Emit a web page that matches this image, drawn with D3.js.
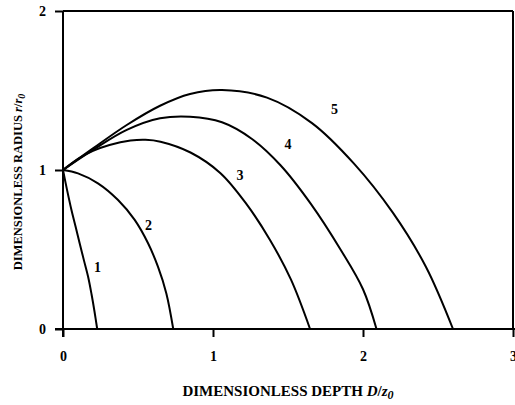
<!DOCTYPE html>
<html>
<head>
<meta charset="utf-8">
<script src="https://cdn.jsdelivr.net/npm/d3@7"></script>
<style>
  html, body { margin: 0; padding: 0; background: #fff; }
  svg { display: block; }
</style>
</head>
<body>
<svg id="chart" width="515" height="405"></svg>
<script>
// ---- data ----
const curveNames = ["1", "2", "3", "4", "5"];
const curve1 = [[0,1],[0.028,0.87],[0.056,0.75],[0.085,0.64],[0.111,0.54],[0.14,0.43],[0.167,0.33],[0.19,0.22],[0.21,0.11],[0.228,0]];
const curve2 = [[0,1],[0.1,0.979],[0.233,0.916],[0.367,0.811],[0.478,0.686],[0.567,0.539],[0.633,0.392],[0.689,0.224],[0.735,0]];
const curve3 = [[0,1],[0.1,1.07],[0.2,1.12],[0.31,1.157],[0.45,1.185],[0.55,1.19],[0.65,1.178],[0.85,1.11],[1.05,0.98],[1.22,0.79],[1.38,0.56],[1.52,0.31],[1.647,0]];
const curve4 = [[0,1],[0.2,1.126],[0.425,1.252],[0.647,1.325],[0.847,1.335],[1.06,1.30],[1.26,1.195],[1.45,1.03],[1.65,0.79],[1.85,0.50],[2.0,0.25],[2.09,0]];
const curve5 = [[0,1],[0.2,1.136],[0.425,1.283],[0.647,1.404],[0.847,1.478],[1.06,1.503],[1.36,1.455],[1.66,1.295],[1.94,1.04],[2.2,0.73],[2.42,0.39],[2.60,0]];
const curveLabelPos = [[0.23,0.38],[0.57,0.64],[1.18,0.96],[1.5,1.15],[1.81,1.37]];
const xTicks = [0, 1, 2, 3];
const yTicks = [0, 1, 2];
const xTitle = "DIMENSIONLESS DEPTH ";
const yTitle = "DIMENSIONLESS RADIUS ";

const curves = [curve1, curve2, curve3, curve4, curve5];
const SERIF = '"Liberation Serif", "Times New Roman", Times, "DejaVu Serif", serif';

// ---- layout ----
const svg = d3.select("#chart");
const x = d3.scaleLinear().domain([0, 3]).range([63, 513]);
const y = d3.scaleLinear().domain([0, 2]).range([329, 11]);

// frame
const g = svg.append("g");
g.append("line").attr("x1", x(0)).attr("x2", x(3)).attr("y1", y(2)).attr("y2", y(2))
  .attr("stroke", "#000").attr("stroke-width", 2);
g.append("line").attr("x1", x(3)).attr("x2", x(3)).attr("y1", y(2)).attr("y2", y(0))
  .attr("stroke", "#000").attr("stroke-width", 2);

// axes
const xAxis = d3.axisBottom(x).tickValues(xTicks).tickSize(8).tickPadding(14).tickFormat(d3.format("d"));
const yAxis = d3.axisLeft(y).tickValues(yTicks).tickSize(8).tickPadding(9).tickFormat(d3.format("d"));

const gx = svg.append("g").attr("transform", `translate(0,${y(0)})`).call(xAxis);
const gy = svg.append("g").attr("transform", `translate(${x(0)},0)`).call(yAxis);
[gx, gy].forEach(a => {
  a.attr("font-family", null).attr("font-size", null);
  a.select(".domain").attr("stroke", "#000").attr("stroke-width", 2);
  a.selectAll(".tick line").attr("stroke", "#000").attr("stroke-width", 2);
  a.selectAll(".tick text").style("font-family", SERIF)
    .style("font-weight", "bold").style("font-size", "14px").attr("fill", "#000");
});
gx.select(".domain").attr("d", `M${x(0)-8},0H${x(3)+2}`);
gy.select(".domain").attr("d", `M0,${y(2)}V${y(0)+8}`);

// curves
const line = d3.line().x(d => x(d[0])).y(d => y(d[1])).curve(d3.curveCatmullRom.alpha(0.5));
svg.append("g").selectAll("path").data(curves).join("path")
  .attr("d", line).attr("fill", "none").attr("stroke", "#000").attr("stroke-width", 2);

// curve labels
svg.append("g").selectAll("text").data(curveNames).join("text")
  .attr("x", (d, i) => x(curveLabelPos[i][0]))
  .attr("y", (d, i) => y(curveLabelPos[i][1]))
  .attr("text-anchor", "middle").attr("dominant-baseline", "middle")
  .style("font-family", SERIF).style("font-weight", "bold").style("font-size", "14px")
  .text(d => d);

// axis titles
const xt = svg.append("text").attr("x", 288).attr("y", 396).attr("text-anchor", "middle")
  .style("font-family", SERIF).style("font-weight", "bold").style("font-size", "15px");
xt.append("tspan").text(xTitle);
xt.append("tspan").style("font-style", "italic").text("D");
xt.append("tspan").text("/");
xt.append("tspan").style("font-style", "italic").text("z");
xt.append("tspan").style("font-style", "italic").style("font-size", "12px").attr("dy", 3).text("0");

const yt = svg.append("text").attr("transform", "translate(22,182) rotate(-90)").attr("text-anchor", "middle")
  .style("font-family", SERIF).style("font-weight", "bold").style("font-size", "12.5px");
yt.append("tspan").text(yTitle);
yt.append("tspan").style("font-style", "italic").text("r");
yt.append("tspan").text("/");
yt.append("tspan").style("font-style", "italic").text("r");
yt.append("tspan").style("font-style", "italic").style("font-size", "10px").attr("dy", 3).text("0");
</script>
</body>
</html>
